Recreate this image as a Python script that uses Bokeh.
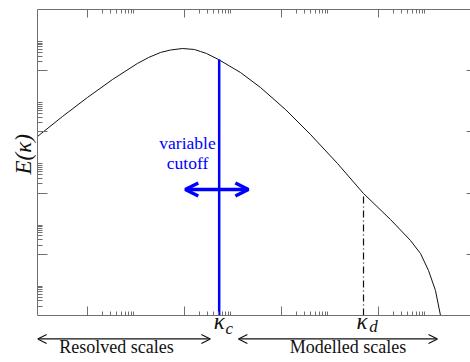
from bokeh.plotting import figure
from bokeh.models import (Range1d, LogAxis, FixedTicker, Arrow, OpenHead, Label,
                          CustomJSTickFormatter)
from bokeh.embed import file_html
from bokeh.resources import INLINE

# ---- data (log-log energy spectrum) ----
kappa = [0.0933, 0.305, 0.998, 3.28, 10.7, 18.2, 32.1, 51.5, 91.2, 161, 214,
         285, 504, 1432, 3695, 12100, 39710, 143200, 491700, 1.770e6, 4.58e6,
         7.36e6, 1.076e7, 1.499e7, 1.903e7]
energy = [7.08e-3, 3.18e-2, 0.133, 0.515, 1.72, 2.70, 3.94, 4.74, 5.31, 4.93,
          4.24, 3.65, 2.32, 0.873, 0.283, 0.054, 8.22e-3, 9.27e-4, 9.70e-5,
          1.37e-5, 2.82e-6, 1.06e-6, 2.96e-7, 6.56e-8, 1.0e-8]

kappa_c = 520.0      # cutoff wavenumber
E_c = 2.32           # spectrum value at the cutoff
kappa_d = 4.92e5     # dissipation wavenumber
E_d = 9.7e-5         # spectrum value at kappa_d

x_major = [1, 1e2, 1e4, 1e6]
x_minor = [m * 10.0 ** k for k in (0, 2, 4, 6) for m in range(2, 10)]
y_major = [1e-6, 1e-4, 1e-2, 1]
y_minor = [m * 10.0 ** k for k in (-8, -6, -4, -2, 0) for m in range(2, 10)]

x_lo, x_hi = 10 ** -1.03, 10 ** 7.898
y_axis_lo, y_hi = 1e-8, 1e2          # extent of the spectrum axes
y_view_lo = 10 ** -9.536             # room below the axis for the scale labels

# annotation heights (data units)
y_var, y_cut, y_arrow = 1.97e-3, 4.71e-4, 1.31e-4
y_klab, y_barrow, y_text = 2.58e-9, 1.71e-9, 4.3e-10

AX = "#6f6f6f"
INK = "#111111"
SERIF = "Liberation Serif"

p = figure(width=470, height=362, x_axis_type="log", y_axis_type="log",
           x_range=Range1d(x_lo, x_hi), y_range=Range1d(y_view_lo, y_hi),
           output_backend="svg", toolbar_location=None,
           min_border_left=37, min_border_right=0, min_border_top=9,
           min_border_bottom=0)
p.outline_line_color = None
p.xgrid.visible = False
p.ygrid.visible = False

top = LogAxis()
right = LogAxis()
p.add_layout(top, "above")
p.add_layout(right, "right")

bottom = p.below[0]
left = p.left[0]
bottom.fixed_location = y_axis_lo
left.bounds = (y_axis_lo, y_hi)
right.bounds = (y_axis_lo, y_hi)

for ax, tk, big, small in [
        (bottom, FixedTicker(ticks=x_major, minor_ticks=x_minor), 9, 4),
        (top, FixedTicker(ticks=x_major, minor_ticks=x_minor), 8, 4),
        (left, FixedTicker(ticks=y_major, minor_ticks=y_minor), 10, 5),
        (right, FixedTicker(ticks=y_major, minor_ticks=y_minor), 4, 0)]:
    ax.ticker = tk
    ax.formatter = CustomJSTickFormatter(code="return '';")
    ax.major_label_standoff = 0
    ax.major_tick_out = 0
    ax.minor_tick_out = 0
    ax.major_tick_in = big
    ax.minor_tick_in = small
    ax.axis_line_color = AX
    ax.major_tick_line_color = AX
    ax.minor_tick_line_color = AX

right.axis_line_color = None
right.minor_tick_line_color = None

# leading no-break spaces lift the label towards the upper part of the axis
left.axis_label = "\u00a0" * 11 + "E(κ)"
left.axis_label_text_font = SERIF
left.axis_label_text_font_style = "italic"
left.axis_label_text_font_size = "23px"
left.axis_label_text_color = INK
left.axis_label_standoff = 2

# spectrum
p.line(kappa, energy, line_color=INK, line_width=1)

# cutoff line and kappa_d line
p.segment(x0=[kappa_c], y0=[y_axis_lo], x1=[kappa_c], y1=[E_c],
          line_color="#0000ff", line_width=2.5)
p.segment(x0=[kappa_d], y0=[y_axis_lo], x1=[kappa_d], y1=[E_d],
          line_color="#111111", line_width=1.2, line_dash="7 3 1 3")

# variable cutoff annotation
for txt, yy in [("variable", y_var), ("cutoff", y_cut)]:
    p.add_layout(Label(x=kappa_c / 4.5, y=yy, text=txt, text_align="center",
                       text_font=SERIF, text_font_style="normal",
                       text_font_size="17.5px", text_color="#0000ff"))
p.add_layout(Arrow(start=OpenHead(size=13, line_color="#0000ff", line_width=3.5),
                   end=OpenHead(size=13, line_color="#0000ff", line_width=3.5),
                   x_start=kappa_c / 5.0, x_end=kappa_c * 4.0,
                   y_start=y_arrow, y_end=y_arrow,
                   line_color="#0000ff", line_width=3.5))

# ---- labels and arrows below the axis ----
for kx, sub, dx, sdx, sdy in [(kappa_c, "c", 0, 10, -4), (kappa_d, "d", -1.5, 10, -2)]:
    p.add_layout(Label(x=kx, y=y_klab, text="κ", text_align="center", x_offset=dx,
                       text_font=SERIF, text_font_style="italic",
                       text_font_size="23px", text_color=INK))
    p.add_layout(Label(x=kx, y=y_klab, text=sub, text_align="center", x_offset=sdx,
                       y_offset=sdy, text_font=SERIF, text_font_style="italic",
                       text_font_size="17px", text_color=INK))

head = dict(size=9, line_color=INK, line_width=1.2)
p.add_layout(Arrow(start=OpenHead(**head), end=OpenHead(**head),
                   x_start=0.094, x_end=kappa_c / 1.52,
                   y_start=y_barrow, y_end=y_barrow,
                   line_color=INK, line_width=1.2))
p.add_layout(Arrow(start=OpenHead(**head), end=OpenHead(**head),
                   x_start=kappa_c * 2.49, x_end=1.65e7,
                   y_start=y_barrow, y_end=y_barrow,
                   line_color=INK, line_width=1.2))

p.add_layout(Label(x=3.97, y=y_text, text="Resolved scales", text_align="center",
                   text_font=SERIF, text_font_size="18px", text_color=INK))
p.add_layout(Label(x=2.35e5, y=y_text, text="Modelled scales", text_align="center",
                   text_font=SERIF, text_font_size="18px", text_color=INK))

open("out.html", "w").write(file_html(p, INLINE))
